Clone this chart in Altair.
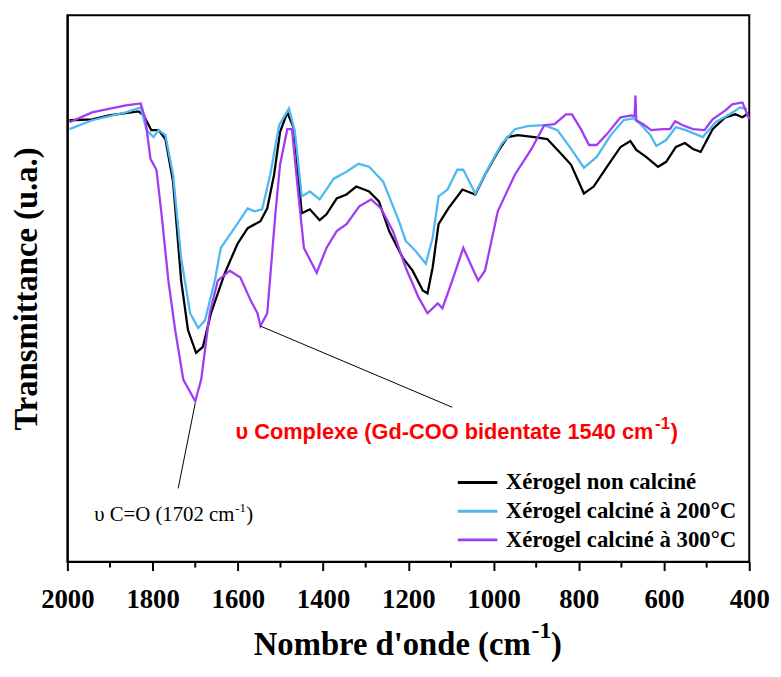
import altair as alt
import pandas as pd

SERIES = ["Xérogel non calciné", "Xérogel calciné à 200°C", "Xérogel calciné à 300°C"]
COLORS = ["#000000", "#4DB8F2", "#A23CF4"]

# Wavenumber (cm-1) and transmittance (arbitrary units)
black_wn = [1995, 1942, 1902, 1833, 1821, 1803, 1786, 1770, 1752, 1733, 1717, 1698, 1682, 1663, 1631,
            1601, 1577, 1547, 1531, 1515, 1501, 1484, 1468, 1457, 1450, 1431, 1408, 1392, 1368, 1345,
            1322, 1292, 1269, 1245, 1213, 1190, 1166, 1155, 1143, 1129, 1106, 1073, 1043, 1020, 990,
            967, 943, 904, 874, 841, 818, 788, 765, 734, 702, 679, 665, 642, 614, 595,
            572, 551, 532, 514, 486, 456, 433, 416, 405]
black_t = [446, 447, 451, 455, 451, 436, 436, 427, 384, 284, 234, 211, 217, 251, 291,
           321, 337, 344, 357, 391, 434, 454, 437, 384, 352, 356, 345, 351, 367, 371,
           379, 374, 364, 334, 307, 294, 274, 271, 297, 341, 357, 376, 371, 391, 414,
           429, 431, 429, 427, 412, 401, 372, 379, 399, 419, 425, 416, 409, 399, 404,
           419, 423, 417, 414, 437, 449, 452, 449, 452]

blue_wn = [1995, 1942, 1863, 1828, 1814, 1798, 1786, 1770, 1752, 1733, 1712, 1693, 1677, 1654, 1640,
           1608, 1577, 1561, 1543, 1524, 1503, 1480, 1466, 1450, 1431, 1408, 1375, 1345, 1317, 1292,
           1259, 1222, 1206, 1183, 1159, 1143, 1129, 1108, 1085, 1071, 1043, 1013, 981, 950, 920,
           881, 850, 818, 788, 758, 725, 695, 672, 655, 632, 618, 595, 572, 549, 509,
           479, 446, 421, 405]
blue_t = [437, 446, 454, 459, 436, 429, 436, 431, 391, 307, 251, 236, 244, 284, 317,
          337, 357, 354, 356, 391, 441, 458, 434, 369, 374, 366, 387, 394, 402, 399,
          384, 344, 324, 314, 301, 327, 369, 376, 396, 396, 372, 397, 422, 437, 440,
          441, 436, 417, 398, 409, 431, 446, 448, 442, 431, 420, 426, 439, 436, 429,
          444, 452, 459, 457]

purple_wn = [1995, 1942, 1863, 1828, 1817, 1805, 1791, 1779, 1763, 1747, 1728, 1700, 1686, 1666, 1647,
             1619, 1594, 1570, 1554, 1547, 1531, 1512, 1501, 1484, 1473, 1461, 1445, 1415, 1392, 1368,
             1345, 1315, 1287, 1264, 1236, 1206, 1176, 1155, 1131, 1120, 1097, 1071, 1050, 1036, 1020,
             990, 950, 911, 881, 857, 830, 816, 795, 776, 758, 734, 702, 676, 669, 667,
             665, 649, 630, 602, 586, 574, 556, 532, 505, 486, 456, 440, 416, 400]
purple_t = [444, 454, 461, 463, 447, 407, 396, 351, 284, 234, 184, 162, 184, 251, 284,
            294, 287, 264, 251, 238, 251, 351, 401, 437, 437, 384, 317, 292, 317, 334,
            341, 359, 366, 357, 334, 297, 267, 251, 261, 256, 284, 317, 297, 284, 294,
            354, 391, 417, 441, 442, 452, 452, 437, 421, 421, 432, 449, 451, 450, 471,
            446, 442, 436, 437, 437, 445, 441, 437, 436, 447, 456, 462, 464, 447]

MAJOR_TICKS = [2000, 1800, 1600, 1400, 1200, 1000, 800, 600, 400]
MINOR_TICKS = [1900, 1700, 1500, 1300, 1100, 900, 700, 500]

# annotation leader lines (data coordinates)
lead_wn = [1700, 1547]
lead_t = [160, 238]
lead_wn2 = [1740, 1097]
lead_t2 = [74, 156]

# annotation text pieces: main part (right aligned), superscript and closing parenthesis
co_main = ["υ C=O (1702 cm"]
co_main_wn = [1608]
co_main_t = [41]
co_rest = ["-1", ")"]
co_rest_wn = [1606, 1580]
co_rest_t = [50, 41]
co_rest_fs = [13, 21]

cx_main = ["υ Complexe (Gd-COO bidentate 1540 cm"]
cx_main_wn = [625]
cx_main_t = [124]
cx_rest = ["-1", ")"]
cx_rest_wn = [621, 584]
cx_rest_t = [134, 124]
cx_rest_fs = [17, 22]

xt_main = ["Nombre d'onde (cm"]
xt_main_wn = [913]
xt_main_t = [-94]
xt_rest = ["-1", ")"]
xt_rest_wn = [911, 865]
xt_rest_t = [-77, -94]
xt_rest_fs = [24, 33]

rows = []
for name, wns, ts in zip(SERIES, [black_wn, blue_wn, purple_wn], [black_t, blue_t, purple_t]):
    for a, b in zip(wns, ts):
        rows.append({"serie": name, "wn": a, "t": b})
df = pd.DataFrame(rows)

xscale = alt.Scale(domain=[400, 2000], reverse=True, nice=False, zero=False)
yscale = alt.Scale(domain=[0, 552], nice=False, zero=False)

xaxis = alt.Axis(title=None, values=MAJOR_TICKS, format="d", labelFont="Liberation Serif",
                 labelFontSize=27, labelFontWeight="bold", labelColor="black", labelPadding=16,
                 tickSize=9, tickWidth=2, tickColor="black", domainColor="black", domainWidth=2,
                 grid=False, labelFlush=False, labelOverlap=False)
yaxis = alt.Axis(title="Transmittance (u.a.)", labels=False, ticks=False, grid=False,
                 domain=True, domainColor="black", domainWidth=2, titleFont="Liberation Serif",
                 titleFontSize=33, titleFontWeight="bold", titleColor="black", titlePadding=24)

X = alt.X("wn:Q", scale=xscale, axis=xaxis)
Y = alt.Y("t:Q", scale=yscale, axis=yaxis)

lines = alt.Chart(df).mark_line(strokeWidth=2.3).encode(
    x=X, y=Y,
    color=alt.Color("serie:N", scale=alt.Scale(domain=SERIES, range=COLORS),
                    legend=alt.Legend(orient="none", legendX=393, legendY=460, title=None,
                                      symbolType="stroke", symbolSize=1600, symbolStrokeWidth=3,
                                      labelFont="Liberation Serif", labelFontWeight="bold",
                                      labelFontSize=23, labelColor="black", labelOffset=7,
                                      clipHeight=24, rowPadding=5, padding=0, labelLimit=400)),
)

minor = alt.Chart(pd.DataFrame({"wn": MINOR_TICKS})).mark_rule(color="black", strokeWidth=2).encode(
    x=X, y=alt.value(552), y2=alt.value(558))

leads = alt.Chart(pd.DataFrame({"wn": lead_wn, "t": lead_t, "wn2": lead_wn2, "t2": lead_t2})).mark_rule(
    color="black", strokeWidth=1).encode(x=X, y=Y, x2="wn2:Q", y2="t2:Q")


def text_main(labels, wns, ts, **kw):
    return alt.Chart(pd.DataFrame({"wn": wns, "t": ts, "label": labels})).mark_text(
        align="right", baseline="alphabetic", **kw).encode(x=X, y=Y, text="label:N")


def text_rest(labels, wns, ts, sizes, **kw):
    return alt.Chart(pd.DataFrame({"wn": wns, "t": ts, "label": labels, "fs": sizes})).mark_text(
        align="left", baseline="alphabetic", **kw).encode(
        x=X, y=Y, text="label:N", size=alt.Size("fs:Q", scale=None, legend=None))


co1 = text_main(co_main, co_main_wn, co_main_t, font="Liberation Serif", fontSize=21, color="black")
co2 = text_rest(co_rest, co_rest_wn, co_rest_t, co_rest_fs, font="Liberation Serif", color="black")
cx1 = text_main(cx_main, cx_main_wn, cx_main_t, font="Liberation Sans", fontSize=22,
                fontWeight="bold", color="#FF0000")
cx2 = text_rest(cx_rest, cx_rest_wn, cx_rest_t, cx_rest_fs, font="Liberation Sans",
                fontWeight="bold", color="#FF0000")
xt1 = text_main(xt_main, xt_main_wn, xt_main_t, font="Liberation Serif", fontSize=33,
                fontWeight="bold", color="black")
xt2 = text_rest(xt_rest, xt_rest_wn, xt_rest_t, xt_rest_fs, font="Liberation Serif",
                fontWeight="bold", color="black")

chart = alt.layer(lines, minor, leads, co1, co2, cx1, cx2, xt1, xt2).properties(
    width=689, height=552,
    autosize=alt.AutoSizeParams(type="none"),
    padding={"left": 60, "top": 4, "right": 24, "bottom": 100},
).configure_view(stroke="black", strokeWidth=2)

chart.save("out.html", embed_options={"renderer": "svg", "actions": False})
